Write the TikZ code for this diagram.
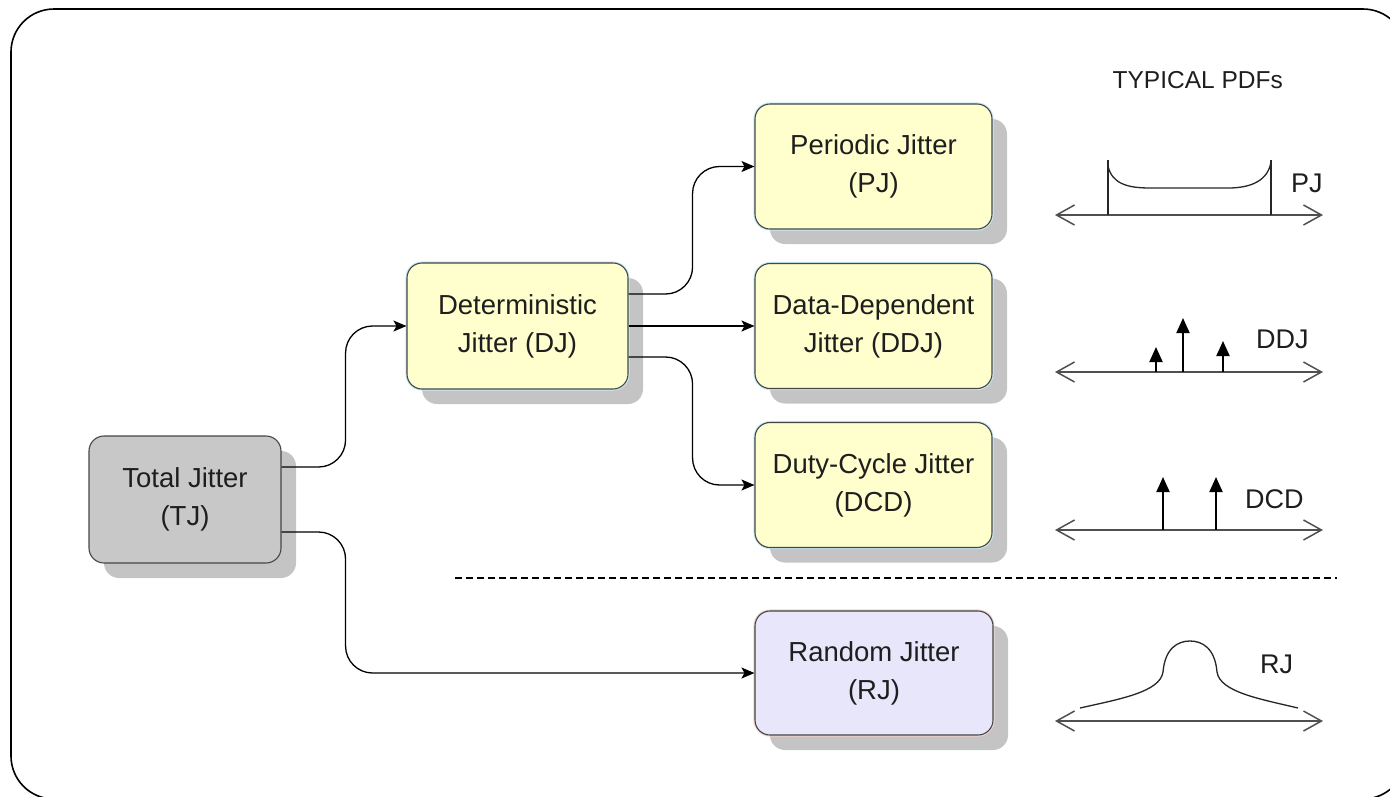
\documentclass[tikz,border=0pt]{standalone}
\usepackage{fontspec}
\setmainfont{Liberation Sans}
\usetikzlibrary{arrows.meta,shadows}
\definecolor{shadowc}{RGB}{196,196,196}
\definecolor{tjfill}{RGB}{200,200,200}
\definecolor{yelfill}{RGB}{255,255,206}
\definecolor{rjfill}{RGB}{231,230,250}
\definecolor{boxdraw}{RGB}{70,70,70}
\definecolor{txt}{RGB}{30,30,30}
\definecolor{haloblue}{RGB}{200,236,246}
\definecolor{halopink}{RGB}{240,212,208}
\definecolor{axiscol}{RGB}{80,80,80}
\begin{document}
\begin{tikzpicture}[x=1pt,y=-1pt,
  box/.style={draw=boxdraw, line width=1.1pt, rounded corners=15pt,
    minimum width=237pt, minimum height=125pt, inner sep=0pt, align=center,
    font=\fontsize{27.5}{38}\selectfont, text=txt,
    drop shadow={shadow xshift=15pt, shadow yshift=-15pt, fill=shadowc, opacity=1, draw=none}},
  yel/.style={box, fill=yelfill, preaction={draw=haloblue, line width=3.2pt}},
  conn/.style={draw=black, line width=1.3pt, rounded corners=27pt,
    -{Stealth[length=13pt,width=11pt,inset=3pt]}},
  axisline/.style={draw=axiscol, line width=1.5pt,
    {Straight Barb[length=18pt,width=20pt]}-{Straight Barb[length=18pt,width=20pt]}},
  stem/.style={draw=black, line width=2pt, -{Triangle[length=15pt,width=13pt]}},
  pdfline/.style={draw=black!85, line width=1.3pt},
  lbl/.style={font=\fontsize{27}{30}\selectfont, text=txt, inner sep=0pt, anchor=base west}
]
\useasboundingbox (0,0) rectangle (1390,796);
\clip (0,0) rectangle (1390,796);
% outer frame
\draw[line width=1.6pt, rounded corners=43pt] (11,9) rectangle (1406,799);

% boxes
\node[box, fill=tjfill, minimum width=192pt, minimum height=127pt] (tj) at (185,499.5) {Total Jitter\\(TJ)};
\node[yel, minimum width=221pt, minimum height=126pt] (dj) at (517.5,326) {Deterministic\\Jitter (DJ)};
\node[yel] (pj) at (873.5,166.5) {Periodic Jitter\\(PJ)};
\node[yel] (ddj) at (873.5,326) {Data-Dependent\\Jitter (DDJ)};
\node[yel] (dcd) at (873.5,485) {Duty-Cycle Jitter\\(DCD)};
\node[box, fill=rjfill, preaction={draw=halopink, line width=3.2pt}, minimum width=238pt, minimum height=124pt] (rj) at (874,673) {Random Jitter\\(RJ)};

% connectors
\draw[conn] ([yshift=32.5pt]tj.east) -- ++(64,0) |- (dj.west);
\draw[conn] ([yshift=-32.5pt]tj.east) -- ++(64,0) |- (rj.west);
\draw[conn] ([yshift=32pt]dj.east) -- ++(64,0) |- (pj.west);
\draw[conn] (dj.east) -- (ddj.west);
\draw[conn] ([yshift=-31pt]dj.east) -- ++(64,0) |- (dcd.west);

% dashed separator
\draw[line width=1.3pt, dash pattern=on 7pt off 4pt] (455,578) -- (1337,578);

% typical PDFs
\node[lbl, font=\fontsize{24.5}{28}\selectfont, anchor=base east] (title) at (1283,88) {TYPICAL PDFs};

% PJ pdf
\draw[axisline] (1055,215) -- (1323,215);
\draw[pdfline] (1108,215) -- (1108,160);
\draw[pdfline] (1271,215) -- (1271,160);
\draw[pdfline] (1108,166) .. controls (1112,184) and (1128,188) .. (1150,188) -- (1228,188) .. controls (1252,188) and (1268,180) .. (1271,162);
\node[lbl] (pjl) at (1291,192) {PJ};

% DDJ pdf
\draw[axisline] (1055,372) -- (1323,372);
\draw[stem] (1156,372) -- (1156,347);
\draw[stem] (1183,372) -- (1183,318);
\draw[stem] (1223,372) -- (1223,341);
\node[lbl] (ddjl) at (1256,348) {DDJ};

% DCD pdf
\draw[axisline] (1055,530) -- (1323,530);
\draw[stem] (1163,530) -- (1163,477);
\draw[stem] (1216,530) -- (1216,477);
\node[lbl] (dcdl) at (1245,508) {DCD};

% RJ pdf
\draw[axisline] (1055,721) -- (1323,721);
\draw[pdfline] (1080,708) .. controls (1120,699) and (1160,692) .. (1163,672)
  .. controls (1165,648) and (1178,641) .. (1190,641)
  .. controls (1202,641) and (1215,648) .. (1217,672)
  .. controls (1220,692) and (1260,699) .. (1298,708);
\node[lbl] (rjl) at (1260,673) {RJ};
\end{tikzpicture}
\end{document}
